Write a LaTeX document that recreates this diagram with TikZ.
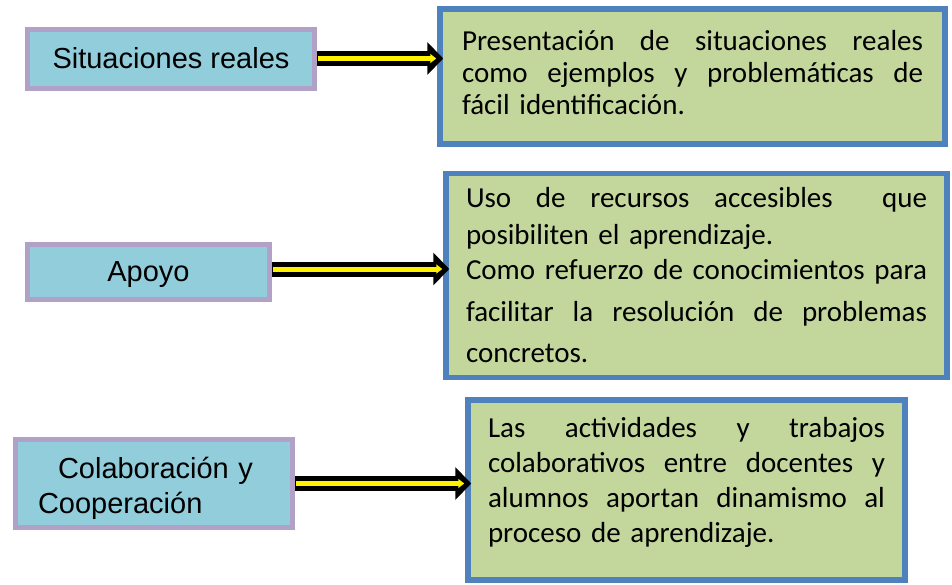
\documentclass[tikz,border=0pt]{standalone}
\usepackage{fontspec}
\setmainfont{Liberation Sans}
\newfontfamily\calibri{Carlito}
\usetikzlibrary{arrows.meta}

\definecolor{namefill}{HTML}{92CDDC}
\definecolor{namedraw}{HTML}{B2A1C7}
\definecolor{descfill}{HTML}{C3D69B}
\definecolor{descdraw}{HTML}{4F81BD}

\newcommand{\fullline}[1]{\leavevmode\hbox to\hsize{\spaceskip=.23em plus 1fil\relax #1}}

\begin{document}
\begin{tikzpicture}[
    x=1pt, y=-1pt,
    namebox/.style={rectangle, draw=namedraw, fill=namefill, line width=5pt, inner sep=0pt, font=\fontsize{29}{30}\selectfont},
    descbox/.style={rectangle, draw=descdraw, fill=descfill, line width=5.5pt, inner sep=0pt, align=left, font=\calibri\fontsize{29}{32}\selectfont},
    blackarrow/.style={line width=15pt, -{Triangle[length=16pt, width=32pt]}, shorten >=-6pt},
    yellowarrow/.style={draw=yellow, line width=5pt, -{Triangle[length=6pt, width=9pt]}, shorten <=1pt, shorten >=1pt}
]
    \useasboundingbox (0,0) rectangle (952,584);

    % Nodes
    \node[descbox, minimum width=505pt, minimum height=135pt, text width=461pt, text height=21pt, text depth=74pt] (presentacion) at (692.5,76.5)
        {\fullline{Presentación de situaciones reales}\\
         \fullline{como ejemplos y problemáticas de}\\
         fácil identificación.};
    \node[descbox, minimum width=501pt, minimum height=204pt, text width=461pt, font=\calibri\fontsize{29}{35}\selectfont] (recursos) at (696.5,275.5)
        {\fullline{Uso de recursos accesibles\ \ que}\\[2pt]
         posibiliten el aprendizaje.\\
         \fullline{Como refuerzo de conocimientos para}\\[7pt]
         \fullline{facilitar la resolución de problemas}\\[6pt]
         concretos.};
    \node[descbox, minimum width=437pt, minimum height=180pt, text width=397pt, text height=21pt, text depth=127pt, font=\calibri\fontsize{29}{35.3}\selectfont] (actividades) at (686.5,490)
        {\fullline{Las actividades y trabajos}\\
         \fullline{colaborativos entre docentes y}\\
         \fullline{alumnos aportan dinamismo al}\\
         proceso de aprendizaje.};

    \node[namebox, minimum width=287pt, minimum height=59pt] (situaciones) at (171,58.5) {Situaciones reales};
    \node[namebox, minimum width=242pt, minimum height=55pt, text depth=0pt] (apoyo) at (148.5,272) {Apoyo};
    \node[namebox, minimum width=277pt, minimum height=88pt, text width=232pt, text height=30pt, text depth=41pt, align=left, font=\fontsize{29}{35}\selectfont] (colaboracion) at (154,483.5)
        {\hspace*{20pt}Colaboración y\\Cooperación};

    % Arrows
    \draw[blackarrow] (situaciones.east) -- (situaciones.east -| presentacion.west);
    \draw[yellowarrow] (situaciones.east) -- (situaciones.east -| presentacion.west);
    \draw[blackarrow] ([yshift=3pt]apoyo.east) -- ([yshift=3pt]apoyo.east -| recursos.west);
    \draw[yellowarrow] ([yshift=3pt]apoyo.east) -- ([yshift=3pt]apoyo.east -| recursos.west);
    \draw[blackarrow] (colaboracion.east) -- (colaboracion.east -| actividades.west);
    \draw[yellowarrow] (colaboracion.east) -- (colaboracion.east -| actividades.west);
\end{tikzpicture}
\end{document}
